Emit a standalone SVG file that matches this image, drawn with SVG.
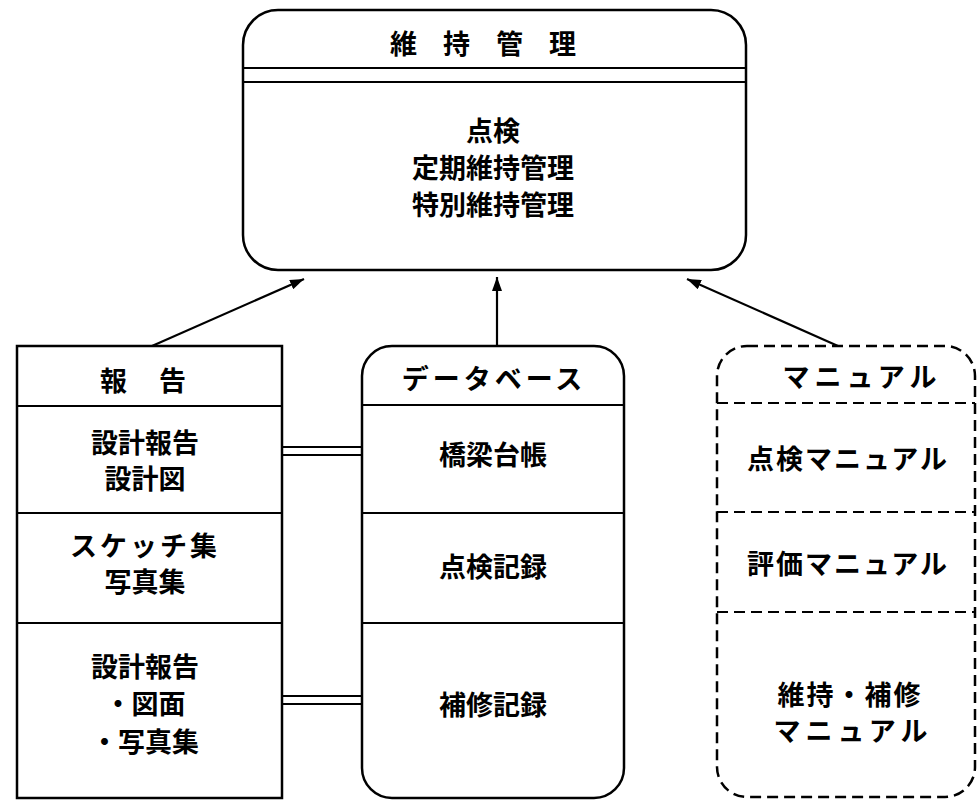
<svg xmlns="http://www.w3.org/2000/svg" width="977" height="800" viewBox="0 0 977 800">
<defs>
<marker id="ah" viewBox="0 0 14 10" refX="14" refY="5" markerWidth="14" markerHeight="10" markerUnits="userSpaceOnUse" orient="auto">
<path d="M0,0 L14,5 L0,10 z" fill="#000"/>
</marker>
<style>
.box{fill:#fff;stroke:#000;stroke-width:2.5}
.dash{fill:#fff;stroke:#000;stroke-width:2.5;stroke-dasharray:11 6}
.ln{stroke:#000;stroke-width:2;fill:none}
.dln{stroke:#000;stroke-width:2;fill:none;stroke-dasharray:11 6}
.t{font-family:"Noto Sans CJK JP","Noto Sans CJK SC",sans-serif;font-weight:bold;font-size:27px;fill:#000;text-anchor:middle;dominant-baseline:central}
.con{stroke:#000;stroke-width:2.2;fill:none}
</style>
</defs>
<rect width="977" height="800" fill="#fff"/>
<g id="connectors">
<line class="con" x1="152" y1="346" x2="304" y2="279" marker-end="url(#ah)"/>
<line class="con" x1="497" y1="346" x2="497" y2="277" marker-end="url(#ah)"/>
<line class="con" x1="838" y1="346" x2="687" y2="279" marker-end="url(#ah)"/>
<line class="ln" x1="282" y1="447" x2="362" y2="447"/>
<line class="ln" x1="282" y1="455" x2="362" y2="455"/>
<line class="ln" x1="282" y1="696" x2="362" y2="696"/>
<line class="ln" x1="282" y1="704" x2="362" y2="704"/>
</g>
<g id="maintenance">
<rect class="box" x="243" y="10" width="503" height="260" rx="35" ry="35"/>
<line class="ln" x1="243" y1="68" x2="746" y2="68"/>
<line class="ln" x1="243" y1="82" x2="746" y2="82"/>
<text class="t" x="496" y="42" letter-spacing="26">維持管理</text>
<text class="t" x="493" y="129">点検</text>
<text class="t" x="493" y="166">定期維持管理</text>
<text class="t" x="493" y="203">特別維持管理</text>
</g>
<g id="report">
<rect class="box" x="17" y="346" width="265" height="452"/>
<line class="ln" x1="17" y1="406" x2="282" y2="406"/>
<line class="ln" x1="17" y1="513" x2="282" y2="513"/>
<line class="ln" x1="17" y1="623" x2="282" y2="623"/>
<text class="t" x="159" y="379" letter-spacing="32">報告</text>
<text class="t" x="145" y="441" font-size="26">設計報告</text>
<text class="t" x="145" y="477" font-size="26">設計図</text>
<text class="t" x="145" y="544" font-size="26" letter-spacing="3">スケッチ集</text>
<text class="t" x="145" y="580" font-size="26">写真集</text>
<text class="t" x="145" y="665">設計報告</text>
<text class="t" x="145" y="702">・図面</text>
<text class="t" x="145" y="740">・写真集</text>
</g>
<g id="database">
<rect class="box" x="362" y="346" width="262" height="452" rx="30" ry="30"/>
<line class="ln" x1="362" y1="405" x2="624" y2="405"/>
<line class="ln" x1="362" y1="513" x2="624" y2="513"/>
<line class="ln" x1="362" y1="623" x2="624" y2="623"/>
<text class="t" x="494" y="377" font-size="26" letter-spacing="4">データベース</text>
<text class="t" x="493" y="453">橋梁台帳</text>
<text class="t" x="493" y="565">点検記録</text>
<text class="t" x="493" y="703">補修記録</text>
</g>
<g id="manual">
<rect class="dash" x="717" y="346" width="258" height="451" rx="30" ry="30"/>
<line class="dln" x1="717" y1="403" x2="975" y2="403"/>
<line class="dln" x1="717" y1="512" x2="975" y2="512"/>
<line class="dln" x1="717" y1="612" x2="975" y2="612"/>
<text class="t" x="862" y="375" font-size="26" letter-spacing="5">マニュアル</text>
<text class="t" x="848" y="457" letter-spacing="2">点検マニュアル</text>
<text class="t" x="848" y="562" letter-spacing="2">評価マニュアル</text>
<text class="t" x="850" y="693" font-size="26" letter-spacing="2">維持・補修</text>
<text class="t" x="853" y="729" font-size="26" letter-spacing="5">マニュアル</text>
</g>
</svg>
